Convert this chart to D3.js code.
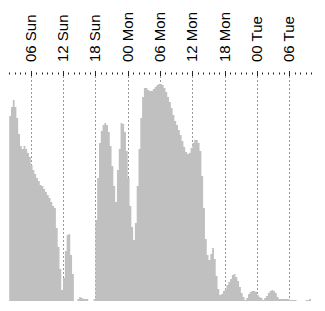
<!DOCTYPE html>
<html>
<head>
<meta charset="utf-8">
<script src="https://cdn.jsdelivr.net/npm/d3@7"></script>
<style>
  body { margin: 0; background: #fff; }
  svg { display: block; }
</style>
</head>
<body>
<div id="chart"></div>
<script>
// time window: Sun 02:00 -> Tue 10:00, one reading every 20 minutes
var startTime = new Date(2015, 5, 7, 2, 0);
var endTime = new Date(2015, 5, 9, 10, 0);
var stepMinutes = 20;

var tickLabels = ["06 Sun", "12 Sun", "18 Sun", "00 Mon", "06 Mon", "12 Mon", "18 Mon", "00 Tue", "06 Tue"];

// null = no data
var values = [
  185, 194, 201, 194, 183, 167, 155, 152, 155, 152,
  148, 144, 136, 131, 127, 123, 120, 116, 115, 112,
  109, 106, 103, 99, 95, 93, 73, 54, 32, 11,
  23, 50, 66, 67, 46, 27, null, null, 2, 4,
  3, 2, 2, 2, null, null, null, 2, 81, 123,
  158, 170, 176, 178, 176, 169, 155, 135, 115, 99,
  131, 152, 178, 177, 169, 150, 123, 95, 74, 61,
  78, 115, 152, 183, 204, 213, 213, 211, 210, 210,
  212, 214, 216, 217, 217, 216, 213, 209, 204, 199,
  193, 186, 180, 176, 171, 166, 160, 154, 149, 147,
  148, 153, 158, 161, 161, 158, 150, 125, 93, 62,
  46, 41, 47, 53, 42, 25, 12, 6, 7, 10,
  12, 16, 19, 22, 26, 27, 24, 20, 14, 8,
  4, 1, 3, 7, 9, 10, 10, 9, 6, 4,
  3, 1, 3, 5, 8, 10, 11, 10, 8, 4,
  2, 2, 2, 2, 2, 2, 1, 1, 1, 1,
  null, null, null, null, null, 1, 1, 2
];

var width = 325, height = 311;
var baseY = 301, topY = 74;

var svg = d3.select("#chart").append("svg")
    .attr("width", width)
    .attr("height", height);

var x = d3.scaleTime()
    .domain([startTime, endTime])
    .range([9.2, 310.9]);

var y = d3.scaleLinear()
    .domain([0, 227])
    .range([baseY, topY]);

// build step points, closing each run of readings at the end of its last interval
var points = [];
values.forEach(function(v, i) {
  var t = d3.timeMinute.offset(startTime, i * stepMinutes);
  points.push({t: t, v: v});
  var next = values[i + 1];
  if (v != null && (next == null)) {
    points.push({t: d3.timeMinute.offset(t, stepMinutes), v: v});
    points.push({t: d3.timeMinute.offset(t, stepMinutes), v: null});
  }
});

var majorTicks = x.ticks(d3.timeHour.every(6));
var minorTicks = x.ticks(d3.timeHour.every(1));

// grid lines (behind area)
svg.append("g")
  .selectAll("line")
  .data(majorTicks)
  .enter().append("line")
    .attr("x1", function(d) { return Math.round(x(d)) + 0.5; })
    .attr("x2", function(d) { return Math.round(x(d)) + 0.5; })
    .attr("y1", 76)
    .attr("y2", baseY)
    .attr("stroke", "#999")
    .attr("stroke-dasharray", "2,2");

var area = d3.area()
    .defined(function(d) { return d.v != null; })
    .curve(d3.curveStepAfter)
    .x(function(d) { return x(d.t); })
    .y0(y(0))
    .y1(function(d) { return y(d.v); });

svg.append("path")
    .datum(points)
    .attr("fill", "#c0c0c0")
    .attr("d", area);

// top axis: hourly minor ticks, 6-hour major ticks with rotated labels
svg.append("g")
  .selectAll("line")
  .data(minorTicks)
  .enter().append("line")
    .attr("x1", function(d) { return Math.round(x(d)) + 0.5; })
    .attr("x2", function(d) { return Math.round(x(d)) + 0.5; })
    .attr("y1", 72.5)
    .attr("y2", 74.5)
    .attr("stroke", "#222");

svg.append("g")
  .selectAll("line")
  .data(majorTicks)
  .enter().append("line")
    .attr("x1", function(d) { return Math.round(x(d)) + 0.5; })
    .attr("x2", function(d) { return Math.round(x(d)) + 0.5; })
    .attr("y1", 71)
    .attr("y2", 76)
    .attr("stroke", "#222");

svg.append("g")
  .selectAll("text")
  .data(majorTicks)
  .enter().append("text")
    .attr("transform", function(d) { return "translate(" + (Math.round(x(d)) + 0.5) + ",62) rotate(-90)"; })
    .attr("dy", "0.27em")
    .attr("text-anchor", "start")
    .style("font-family", "'Liberation Sans', Arial, sans-serif")
    .style("font-size", "15px")
    .attr("fill", "#000")
    .text(function(d, i) { return tickLabels[i]; });
</script>
</body>
</html>
